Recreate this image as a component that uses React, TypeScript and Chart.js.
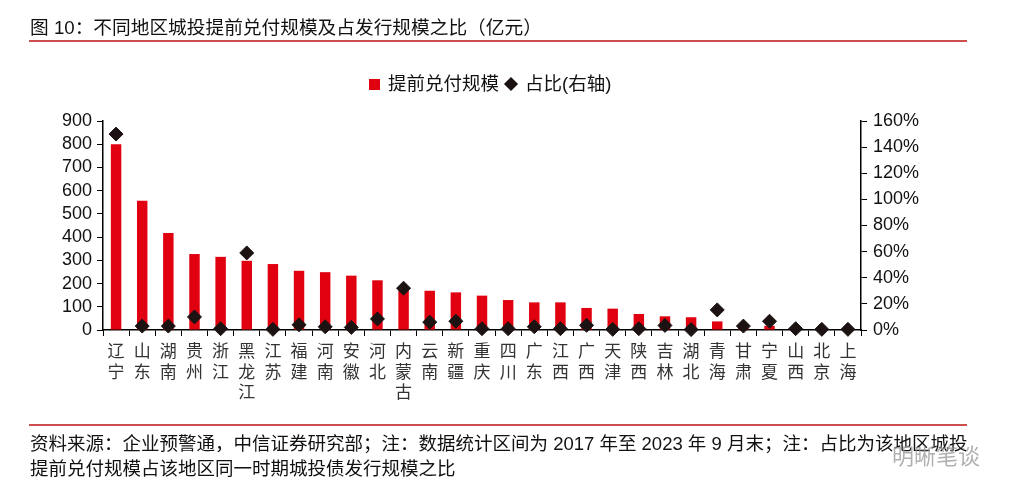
import React, { useEffect, useRef } from 'react';
import { Chart, registerables } from 'chart.js';

Chart.register(...registerables);

const regions: string[][] = [
  ['辽', '宁'], ['山', '东'], ['湖', '南'], ['贵', '州'], ['浙', '江'], ['黑', '龙', '江'],
  ['江', '苏'], ['福', '建'], ['河', '南'], ['安', '徽'], ['河', '北'], ['内', '蒙', '古'],
  ['云', '南'], ['新', '疆'], ['重', '庆'], ['四', '川'], ['广', '东'], ['江', '西'],
  ['广', '西'], ['天', '津'], ['陕', '西'], ['吉', '林'], ['湖', '北'], ['青', '海'],
  ['甘', '肃'], ['宁', '夏'], ['山', '西'], ['北', '京'], ['上', '海'],
];

// 提前兑付规模（亿元）
const prepayValues: number[] = [
  800, 557, 418, 327, 315, 298, 284, 255, 249, 234, 214, 170, 169, 162, 148,
  129, 119, 119, 95, 92, 69, 59, 55, 37, 8, 18, 3, 1, 1,
];

// 占比（右轴）
const ratioValues: number[] = [
  1.5, 0.03, 0.03, 0.1, 0.01, 0.59, 0.005, 0.04, 0.025, 0.02, 0.085, 0.32, 0.06, 0.067, 0.01,
  0.01, 0.025, 0.01, 0.036, 0.005, 0.01, 0.035, 0.003, 0.154, 0.03, 0.067, 0.01, 0.005, 0.005,
];

const leftMax = 900;
const leftStep = 100;
const rightMax = 1.6;
const rightStep = 0.2;

const titleText = '图 10：不同地区城投提前兑付规模及占发行规模之比（亿元）';
const legendBar = '提前兑付规模';
const legendPoint = '占比(右轴)';
const footer1 = '资料来源：企业预警通，中信证券研究部；注：数据统计区间为 2017 年至 2023 年 9 月末；注：占比为该地区城投';
const footer2 = '提前兑付规模占该地区同一时期城投债发行规模之比';

const BAR_COLOR = '#e0000f';
const POINT_COLOR = '#1c1212';
const RULE_COLOR = '#cd4f4f';
const FONT = '"Liberation Sans", "Noto Sans CJK SC", sans-serif';

export default function App() {
  const canvasRef = useRef<HTMLCanvasElement | null>(null);

  useEffect(() => {
    if (!canvasRef.current) return;
    const chart = new Chart(canvasRef.current, {
      data: {
        labels: regions,
        datasets: [
          {
            type: 'line',
            label: legendPoint,
            data: ratioValues,
            yAxisID: 'y1',
            showLine: false,
            pointStyle: 'rectRot',
            pointRadius: 7,
            pointHoverRadius: 7,
            pointBackgroundColor: POINT_COLOR,
            pointBorderColor: POINT_COLOR,
            pointBorderWidth: 1,
            backgroundColor: POINT_COLOR,
            borderColor: POINT_COLOR,
            clip: false,
            order: 0,
          } as any,
          {
            type: 'bar',
            label: legendBar,
            data: prepayValues,
            yAxisID: 'y',
            backgroundColor: BAR_COLOR,
            borderWidth: 0,
            barPercentage: 0.4,
            categoryPercentage: 1,
            order: 1,
          } as any,
        ],
      },
      options: {
        animation: false,
        responsive: false,
        maintainAspectRatio: false,
        layout: { padding: { top: 121, bottom: 80, left: 0, right: 0 } },
        plugins: {
          legend: { display: false },
          tooltip: { enabled: false },
        },
        scales: {
          x: {
            offset: true,
            grid: {
              display: true,
              offset: true,
              drawOnChartArea: false,
              drawTicks: true,
              tickLength: 6,
              color: '#000',
              lineWidth: 1,
            },
            border: { display: true, color: '#000', width: 1.5 },
            ticks: {
              autoSkip: false,
              maxRotation: 0,
              minRotation: 0,
              padding: 5,
              color: '#333',
              font: { family: '"Noto Sans CJK SC", sans-serif', size: 17, lineHeight: 1.18 },
            },
            afterFit: (scale: any) => {
              scale.height = 90;
            },
          },
          y: {
            position: 'left',
            min: 0,
            max: leftMax,
            grid: {
              display: true,
              drawOnChartArea: false,
              drawTicks: true,
              tickLength: 6,
              color: '#000',
            },
            border: { display: true, color: '#000', width: 1.5 },
            ticks: {
              stepSize: leftStep,
              autoSkip: false,
              padding: 5,
              color: '#111',
              font: { family: FONT, size: 18 },
            },
            afterFit: (scale: any) => {
              scale.width = 103;
            },
          },
          y1: {
            position: 'right',
            min: 0,
            max: rightMax,
            grid: {
              display: true,
              drawOnChartArea: false,
              drawTicks: true,
              tickLength: 6,
              color: '#000',
            },
            border: { display: true, color: '#000', width: 1.5 },
            ticks: {
              stepSize: rightStep,
              autoSkip: false,
              padding: 6,
              color: '#111',
              font: { family: FONT, size: 18 },
              callback: (v: any) => Math.round(Number(v) * 100) + '%',
            },
            afterFit: (scale: any) => {
              scale.width = 162;
            },
          },
        },
      },
    });
    return () => chart.destroy();
  }, []);

  return (
    <div
      style={{
        position: 'absolute',
        left: 0,
        top: 0,
        width: 1023,
        height: 500,
        background: '#fff',
        overflow: 'hidden',
        fontFamily: FONT,
        color: '#111',
      }}
    >
      <canvas ref={canvasRef} width={1023} height={500} style={{ position: 'absolute', left: 0, top: 0, width: 1023, height: 500 }} />
      <div style={{ position: 'absolute', left: 30, top: 16, fontSize: 18.7, lineHeight: '24px', whiteSpace: 'nowrap' }}>
        {titleText}
      </div>
      <div style={{ position: 'absolute', left: 29, top: 40, width: 938, height: 2, background: RULE_COLOR }} />
      <div
        style={{
          position: 'absolute',
          left: 369,
          top: 72,
          display: 'flex',
          alignItems: 'center',
          fontSize: 18.5,
          lineHeight: '24px',
          whiteSpace: 'nowrap',
        }}
      >
        <span style={{ display: 'inline-block', width: 11, height: 11, background: BAR_COLOR, marginRight: 8 }} />
        <span>{legendBar}</span>
        <span
          style={{
            display: 'inline-block',
            width: 10,
            height: 10,
            background: POINT_COLOR,
            transform: 'rotate(45deg)',
            marginLeft: 7,
            marginRight: 9,
          }}
        />
        <span>{legendPoint}</span>
      </div>
      <div style={{ position: 'absolute', left: 29, top: 424, width: 938, height: 2, background: RULE_COLOR }} />
      <div style={{ position: 'absolute', left: 30, top: 431, fontSize: 18.5, lineHeight: '25px', whiteSpace: 'nowrap' }}>
        <div>{footer1}</div>
        <div>{footer2}</div>
      </div>
      <div
        style={{
          position: 'absolute',
          left: 892,
          top: 443,
          fontSize: 22,
          lineHeight: '28px',
          color: 'rgba(150,150,150,0.75)',
          whiteSpace: 'nowrap',
        }}
      >
        明晰笔谈
      </div>
    </div>
  );
}
